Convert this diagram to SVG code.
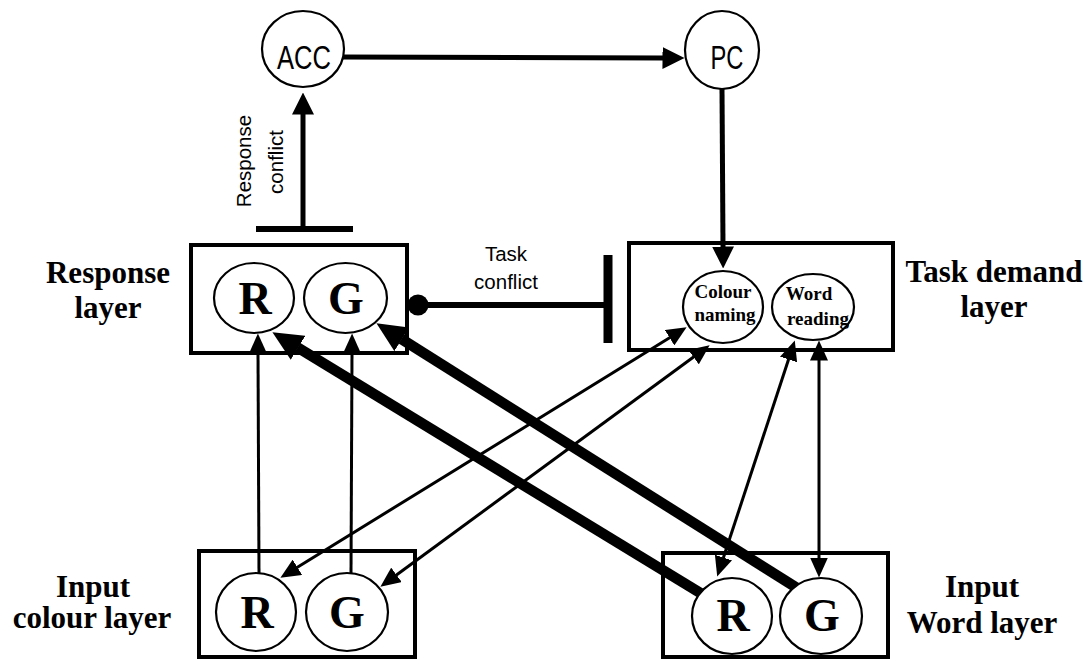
<svg xmlns="http://www.w3.org/2000/svg" width="1090" height="659" viewBox="0 0 1090 659">
<style>
.box{fill:none;stroke:#000;stroke-width:4}
.node{fill:#fff;stroke:#000;stroke-width:2.2}
.lbl{font-family:"Liberation Serif","Times New Roman",serif;font-weight:bold;font-size:31px;text-anchor:middle;fill:#000}
.big{font-family:"Liberation Serif","Times New Roman",serif;font-weight:bold;font-size:46px;text-anchor:middle;fill:#000}
.task{font-family:"Liberation Serif","Times New Roman",serif;font-weight:bold;font-size:19px;text-anchor:middle;fill:#000}
.sans{font-family:"Liberation Sans",Arial,sans-serif;text-anchor:middle;fill:#000}
.ln{stroke:#000;fill:none;stroke-width:3}
.med{stroke-width:5}
.thick{stroke-width:10.5}
</style>
<defs>
<marker id="ah" viewBox="0 0 20 18" markerUnits="userSpaceOnUse" markerWidth="20" markerHeight="18" refX="0.5" refY="9" orient="auto-start-reverse"><path d="M0,0 L20,9 L0,18 z" fill="#000"/></marker>
<marker id="ahM" viewBox="0 0 22 22" markerUnits="userSpaceOnUse" markerWidth="22" markerHeight="22" refX="0.5" refY="11" orient="auto-start-reverse"><path d="M0,0 L22,11 L0,22 z" fill="#000"/></marker>
<marker id="ahT" viewBox="0 0 30 28" markerUnits="userSpaceOnUse" markerWidth="30" markerHeight="28" refX="0.5" refY="14" orient="auto-start-reverse"><path d="M0,0 L30,14 L0,28 z" fill="#000"/></marker>
</defs>

<g id="connectors">
  <!-- response conflict -->
  <line class="ln med" x1="303" y1="229" x2="303" y2="114" marker-end="url(#ahM)"/>
  <line class="ln" style="stroke-width:6" x1="256" y1="229" x2="353" y2="229"/>
  <text class="sans" font-size="20.5" x="251" y="161" transform="rotate(-90 251 161)">Response</text>
  <text class="sans" font-size="20.5" x="283" y="162" transform="rotate(-90 283 162)">conflict</text>
  <!-- ACC to PC -->
  <line class="ln med" x1="342" y1="57" x2="663" y2="58" marker-end="url(#ahM)"/>
  <!-- PC to task demand -->
  <line class="ln med" x1="722" y1="89" x2="723" y2="247" marker-end="url(#ahM)"/>
  <!-- task conflict -->
  <circle cx="418" cy="305" r="10.5" fill="#000"/>
  <line class="ln" style="stroke-width:6" x1="418" y1="305" x2="606" y2="305"/>
  <line class="ln" style="stroke-width:9" x1="608" y1="255" x2="608" y2="343"/>
  <text class="sans" font-size="20.5" x="506" y="261">Task</text>
  <text class="sans" font-size="20.5" x="506" y="289">conflict</text>
  <!-- input colour to response -->
  <line class="ln" x1="259" y1="574" x2="258" y2="353" marker-end="url(#ah)"/>
  <line class="ln" x1="351" y1="574" x2="352" y2="353" marker-end="url(#ah)"/>
  <!-- colour naming <-> input colour -->
  <line class="ln" x1="297" y1="567.5" x2="670" y2="337.5" marker-start="url(#ah)" marker-end="url(#ah)"/>
  <line class="ln" x1="396.1" y1="575.2" x2="693.9" y2="356.8" marker-start="url(#ah)" marker-end="url(#ah)"/>
  <!-- word reading <-> input word -->
  <line class="ln" x1="723.3" y1="558" x2="788.7" y2="359" marker-start="url(#ah)" marker-end="url(#ah)"/>
  <line class="ln" x1="819" y1="558" x2="819" y2="360" marker-start="url(#ah)" marker-end="url(#ah)"/>
  <!-- thick word to response -->
  <line class="ln thick" x1="702" y1="594" x2="297.6" y2="347.6" marker-end="url(#ahT)"/>
  <line class="ln thick" x1="797" y1="588" x2="401.4" y2="339" marker-end="url(#ahT)"/>
</g>

<g id="acc">
  <ellipse class="node" cx="303" cy="49" rx="41" ry="38"/>
  <text class="sans" font-size="33" x="304" y="69" textLength="54" lengthAdjust="spacingAndGlyphs">ACC</text>
</g>
<g id="pc">
  <ellipse class="node" cx="722" cy="50" rx="37" ry="39"/>
  <text class="sans" font-size="33" x="727" y="69" textLength="33" lengthAdjust="spacingAndGlyphs">PC</text>
</g>

<g id="response-layer">
  <rect class="box" x="191" y="245" width="216" height="108"/>
  <text class="lbl" x="108" y="283">Response</text>
  <text class="lbl" x="108" y="318">layer</text>
</g>
<g id="response-R">
  <ellipse class="node" cx="254" cy="298" rx="40" ry="35"/>
  <text class="big" x="255" y="314">R</text>
</g>
<g id="response-G">
  <ellipse class="node" cx="345.5" cy="298" rx="41.5" ry="35"/>
  <text class="big" x="346" y="314">G</text>
</g>

<g id="task-demand-layer">
  <rect class="box" x="629" y="243" width="264" height="107"/>
  <text class="lbl" x="994" y="282">Task demand</text>
  <text class="lbl" x="994" y="317">layer</text>
</g>
<g id="colour-naming">
  <ellipse class="node" cx="723" cy="307" rx="40" ry="36"/>
  <text class="task" x="723" y="298">Colour</text>
  <text class="task" x="725" y="321">naming</text>
</g>
<g id="word-reading">
  <ellipse class="node" cx="813" cy="307" rx="41" ry="33"/>
  <text class="task" x="809" y="300">Word</text>
  <text class="task" x="818" y="325">reading</text>
</g>

<g id="input-colour-layer">
  <rect class="box" x="199" y="551" width="216" height="106"/>
  <text class="lbl" x="93" y="597">Input</text>
  <text class="lbl" x="92" y="628">colour layer</text>
</g>
<g id="input-colour-R">
  <ellipse class="node" cx="256" cy="612" rx="40" ry="39"/>
  <text class="big" x="257" y="628">R</text>
</g>
<g id="input-colour-G">
  <ellipse class="node" cx="347" cy="612" rx="41" ry="39"/>
  <text class="big" x="347" y="628">G</text>
</g>

<g id="input-word-layer">
  <rect class="box" x="663" y="553" width="225" height="104"/>
  <text class="lbl" x="982" y="597">Input</text>
  <text class="lbl" x="982" y="633">Word layer</text>
</g>
<g id="input-word-R">
  <ellipse class="node" cx="732" cy="616" rx="40" ry="38"/>
  <text class="big" x="733" y="631">R</text>
</g>
<g id="input-word-G">
  <ellipse class="node" cx="821" cy="616" rx="41" ry="38"/>
  <text class="big" x="822" y="631">G</text>
</g>
</svg>
